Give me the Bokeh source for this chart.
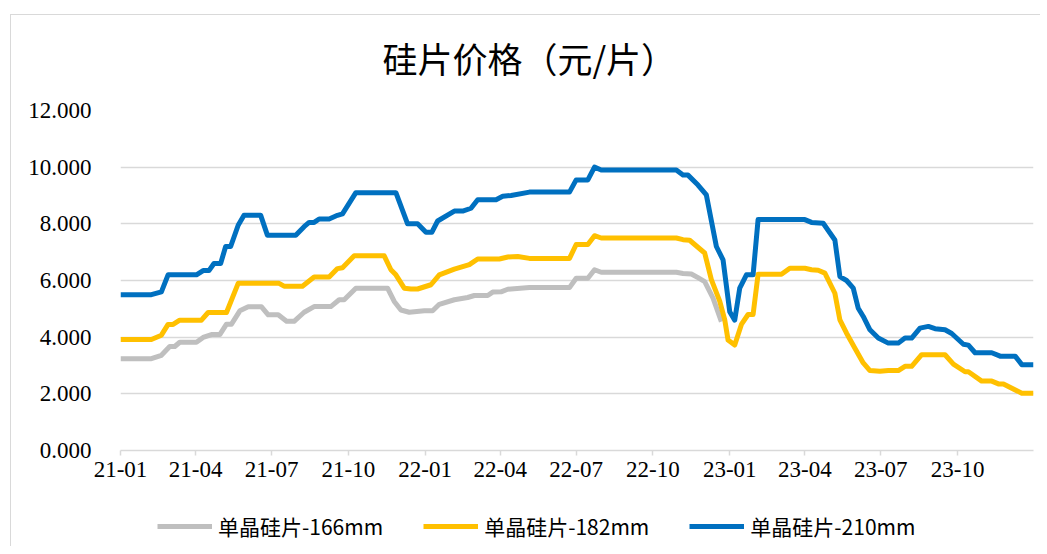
import pandas as pd
from bokeh.plotting import figure
from bokeh.layouts import column
from bokeh.models import (DatetimeTickFormatter, FixedTicker, NumeralTickFormatter,
                          Legend, LegendItem, Range1d, Label)
from bokeh.embed import file_html
from bokeh.resources import INLINE

title_text = "硅片价格（元/片）"
series_names = ["单晶硅片-166mm", "单晶硅片-182mm", "单晶硅片-210mm"]
series_colors = ["#BFBFBF", "#FFC000", "#0070C0"]
tick_dates = ["2021-01-01", "2021-04-01", "2021-07-01", "2021-10-01",
              "2022-01-01", "2022-04-01", "2022-07-01", "2022-10-01",
              "2023-01-01", "2023-04-01", "2023-07-01", "2023-10-01"]
y_ticks = [0, 2, 4, 6, 8, 10, 12]
x_start, x_end = "2021-01-01", "2023-12-31"

dates_166 = ["2021-01-01","2021-02-07","2021-02-19","2021-03-01","2021-03-07","2021-03-13","2021-04-02",
             "2021-04-10","2021-04-20","2021-04-30","2021-05-08","2021-05-14","2021-05-24","2021-06-03",
             "2021-06-19","2021-06-27","2021-07-09","2021-07-19","2021-07-28","2021-08-09","2021-08-21",
             "2021-09-10","2021-09-20","2021-09-26","2021-10-10","2021-11-17","2021-11-25","2021-12-03",
             "2021-12-13","2021-12-31","2022-01-10","2022-01-18","2022-02-05","2022-02-21","2022-03-01",
             "2022-03-17","2022-03-23","2022-04-02","2022-04-10","2022-05-06","2022-06-23","2022-07-01",
             "2022-07-15","2022-07-23","2022-07-31","2022-10-29","2022-11-06","2022-11-16","2022-11-24",
             "2022-12-02","2022-12-12","2022-12-22"]
price_166 = [3.24,3.24,3.36,3.67,3.67,3.82,3.82,3.99,4.09,4.09,4.46,4.46,4.93,5.07,5.07,4.79,4.79,
             4.56,4.56,4.88,5.08,5.08,5.32,5.32,5.73,5.73,5.26,4.96,4.88,4.93,4.93,5.16,5.32,5.4,
             5.47,5.47,5.59,5.6,5.69,5.75,5.75,6.08,6.08,6.38,6.29,6.29,6.25,6.23,6.1,5.96,5.38,4.55]

dates_182 = ["2021-01-01","2021-02-07","2021-02-19","2021-02-27","2021-03-05","2021-03-13","2021-04-08",
             "2021-04-16","2021-05-08","2021-05-22","2021-07-10","2021-07-16","2021-08-07","2021-08-21",
             "2021-09-08","2021-09-18","2021-09-24","2021-10-08","2021-11-13","2021-11-21","2021-11-27",
             "2021-12-07","2021-12-15","2021-12-23","2022-01-08","2022-01-18","2022-02-05","2022-02-23",
             "2022-03-05","2022-03-31","2022-04-10","2022-04-22","2022-05-06","2022-06-23","2022-07-01",
             "2022-07-15","2022-07-23","2022-07-31","2022-10-29","2022-11-06","2022-11-14","2022-12-02",
             "2022-12-10","2022-12-20","2022-12-26","2022-12-30","2023-01-07","2023-01-15","2023-01-23",
             "2023-01-29","2023-02-04","2023-03-04","2023-03-14","2023-04-01","2023-04-09","2023-04-17",
             "2023-04-25","2023-05-07","2023-05-13","2023-05-21","2023-05-31","2023-06-10","2023-06-18",
             "2023-06-30","2023-07-10","2023-07-22","2023-07-30","2023-08-07","2023-08-19","2023-09-16",
             "2023-09-26","2023-10-10","2023-10-14","2023-10-30","2023-11-11","2023-11-19","2023-11-25",
             "2023-12-17","2023-12-31"]
price_182 = [3.92,3.92,4.07,4.45,4.45,4.6,4.6,4.87,4.87,5.9,5.9,5.8,5.8,6.12,6.12,6.42,6.45,6.87,
             6.87,6.38,6.2,5.73,5.7,5.7,5.85,6.2,6.4,6.56,6.76,6.76,6.83,6.85,6.78,6.78,7.27,7.27,
             7.58,7.5,7.5,7.44,7.42,6.97,6.03,5.27,4.62,3.9,3.72,4.45,4.8,4.8,6.22,6.22,6.43,6.43,
             6.38,6.36,6.26,5.55,4.61,4.14,3.61,3.09,2.82,2.8,2.82,2.82,2.97,2.97,3.38,3.38,3.05,
             2.78,2.78,2.45,2.45,2.35,2.35,2.02,2.02]

dates_210 = ["2021-01-01","2021-02-07","2021-02-19","2021-02-27","2021-04-02","2021-04-10","2021-04-17",
             "2021-04-23","2021-05-01","2021-05-07","2021-05-13","2021-05-22","2021-05-29","2021-06-18",
             "2021-06-26","2021-07-30","2021-08-09","2021-08-15","2021-08-21","2021-08-27","2021-09-08",
             "2021-09-18","2021-09-24","2021-10-10","2021-11-27","2021-12-11","2021-12-23","2022-01-02",
             "2022-01-09","2022-01-16","2022-02-05","2022-02-15","2022-02-25","2022-03-05","2022-03-27",
             "2022-04-04","2022-04-14","2022-05-06","2022-06-23","2022-07-01","2022-07-15","2022-07-23",
             "2022-07-31","2022-10-29","2022-11-06","2022-11-12","2022-11-24","2022-12-04","2022-12-16",
             "2022-12-24","2023-01-01","2023-01-07","2023-01-13","2023-01-21","2023-01-29","2023-02-04",
             "2023-04-01","2023-04-09","2023-04-23","2023-05-07","2023-05-13","2023-05-21","2023-05-29",
             "2023-06-04","2023-06-10","2023-06-18","2023-06-28","2023-07-10","2023-07-22","2023-07-30",
             "2023-08-07","2023-08-17","2023-08-27","2023-09-04","2023-09-16","2023-09-24","2023-10-08",
             "2023-10-14","2023-10-22","2023-11-11","2023-11-21","2023-12-09","2023-12-17","2023-12-31"]
price_210 = [5.5,5.5,5.6,6.2,6.2,6.35,6.35,6.6,6.6,7.2,7.2,7.95,8.3,8.3,7.6,7.6,7.9,8.05,8.05,8.17,
             8.17,8.3,8.35,9.1,9.1,8.0,8.0,7.7,7.7,8.1,8.45,8.45,8.55,8.85,8.85,8.97,9.0,9.12,9.12,
             9.55,9.55,10.0,9.9,9.9,9.72,9.72,9.37,9.02,7.2,6.73,4.9,4.6,5.73,6.2,6.2,8.15,8.15,8.05,
             8.02,7.43,6.14,6.0,5.73,5.02,4.73,4.26,3.97,3.79,3.79,3.97,3.97,4.32,4.38,4.3,4.26,4.13,
             3.75,3.72,3.45,3.45,3.33,3.33,3.03,3.03]

num_font = "Liberation Serif"
cjk_font = "Noto Sans CJK SC"
grid_color = "#D9D9D9"
line_w = 5
series = [(dates_166, price_166), (dates_182, price_182), (dates_210, price_210)]
W = 1029


def blank_strip(height):
    f = figure(width=W, height=height, output_backend="svg", toolbar_location=None,
               x_range=Range1d(0, 1), y_range=Range1d(0, 1),
               min_border_left=109, min_border_right=7, min_border_top=0, min_border_bottom=0)
    f.axis.visible = False
    f.grid.visible = False
    f.outline_line_color = None
    f.background_fill_color = "white"
    f.border_fill_color = "white"
    return f


# ---- title strip ----
head = blank_strip(83)
head.add_layout(Label(x=0.4477, y=0.494, text=title_text, text_align="center",
                      text_baseline="middle", text_font=cjk_font, text_font_size="35px",
                      text_color="#000000"))

# ---- main chart ----
p = figure(width=W, height=392, output_backend="svg", toolbar_location=None,
           x_axis_type="datetime",
           x_range=Range1d(pd.Timestamp(x_start), pd.Timestamp(x_end)),
           y_range=Range1d(0, 12),
           min_border_left=109, min_border_right=7, min_border_top=12, min_border_bottom=40)
p.outline_line_color = None
p.background_fill_color = "white"
p.border_fill_color = "white"

renderers = []
for (d, v), c in zip(series, series_colors):
    r = p.line(pd.to_datetime(d), v, line_color=c, line_width=line_w, line_join="round")
    renderers.append(r)

tick_ms = [pd.Timestamp(t).value / 1e6 for t in tick_dates]
p.xaxis.ticker = FixedTicker(ticks=tick_ms)
fmt = "%y-%m"
p.xaxis.formatter = DatetimeTickFormatter(years=fmt, months=fmt, days=fmt, hours=fmt,
                                          hourmin=fmt, minutes=fmt, minsec=fmt,
                                          seconds=fmt, milliseconds=fmt, microseconds=fmt)
p.xaxis.axis_line_color = grid_color
p.xaxis.axis_line_width = 1.5
p.xaxis.major_tick_line_color = grid_color
p.xaxis.major_tick_line_width = 1.5
p.xaxis.major_tick_out = 5
p.xaxis.major_tick_in = 0
p.xaxis.minor_tick_line_color = None
p.xaxis.major_label_text_font = num_font
p.xaxis.major_label_text_font_size = "23px"
p.xaxis.major_label_text_color = "#000000"
p.xaxis.major_label_standoff = 6

p.yaxis.ticker = FixedTicker(ticks=y_ticks)
p.yaxis.formatter = NumeralTickFormatter(format="0.000")
p.yaxis.axis_line_color = None
p.yaxis.major_tick_line_color = None
p.yaxis.minor_tick_line_color = None
p.yaxis.major_label_text_font = num_font
p.yaxis.major_label_text_font_size = "23px"
p.yaxis.major_label_text_color = "#000000"
p.yaxis.major_label_standoff = 23

p.xgrid.grid_line_color = None
p.ygrid.grid_line_color = grid_color
p.ygrid.grid_line_width = 1.5

# ---- legend strip (same series, drawn outside its visible ranges; only the legend shows) ----
lg = blank_strip(56)
lg.y_range = Range1d(100, 101)
legend_renderers = [lg.line(pd.to_datetime(d), v, line_color=c, line_width=line_w)
                    for (d, v), c in zip(series, series_colors)]

legend = Legend(items=[LegendItem(label=n, renderers=[r]) for n, r in zip(series_names, legend_renderers)],
                orientation="horizontal", location=(37, 5),
                glyph_width=55, glyph_height=20, label_standoff=6, spacing=40,
                label_text_font=cjk_font, label_text_font_size="21px", label_text_color="#000000",
                border_line_color=None, background_fill_alpha=0, margin=0, padding=4)
lg.add_layout(legend, "center")

layout = column(head, p, lg, spacing=0,
                styles={"margin-left": "10px", "margin-top": "14px",
                        "border-left": "1px solid #D9D9D9", "border-top": "1px solid #D9D9D9"})
open("out.html", "w").write(file_html(layout, INLINE))
